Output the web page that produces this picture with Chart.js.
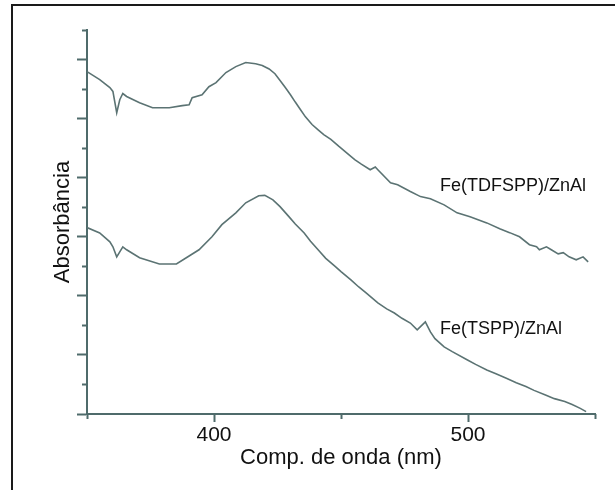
<!DOCTYPE html>
<html>
<head>
<meta charset="utf-8">
<script src="https://cdn.jsdelivr.net/npm/chart.js@4/dist/chart.umd.min.js"></script>
<style>
  html, body { margin: 0; padding: 0; background: #fff; }
  #wrap { position: relative; width: 615px; height: 490px; overflow: hidden; }
  #frame { position: absolute; left: 11px; top: 4px; width: 700px; height: 600px;
           border-top: 2px solid #1a1a1a; border-left: 2px solid #1a1a1a; box-sizing: border-box; }
  canvas { position: absolute; left: 0; top: 0; }
</style>
</head>
<body>
<div id="wrap">
  <div id="frame"></div>
  <canvas id="c" width="615" height="490"></canvas>
</div>
<script>
// Fe(TDFSPP)/ZnAl  (upper curve)
const wlTDFSPP = [350, 355, 359, 360.2, 361.7, 362.9, 364.1, 365.6, 370.7, 375.8, 382.4, 387.5, 390.2, 391.4, 395.3, 398, 400.8, 404.7, 408.6, 412.5, 416.4, 419, 421.7, 424, 426.3, 428, 430.1, 432, 434, 436, 438.6, 441, 443.2, 446, 449.2, 452, 455.4, 458, 461.5, 463.5, 464.5, 469.5, 472.3, 477.3, 481.3, 485.2, 490.6, 495.7, 500.8, 507.4, 512.5, 516.4, 520.3, 524.2, 527, 528.1, 530.9, 532.8, 535.5, 537.5, 539.8, 542.6, 545.3, 547.3];
const absTDFSPP = [11.59, 11.32, 11.05, 10.92, 10.20, 10.64, 10.85, 10.75, 10.54, 10.37, 10.37, 10.44, 10.47, 10.71, 10.81, 11.08, 11.22, 11.56, 11.76, 11.90, 11.86, 11.80, 11.68, 11.52, 11.26, 11.06, 10.81, 10.56, 10.31, 10.06, 9.80, 9.62, 9.46, 9.30, 9.06, 8.86, 8.61, 8.46, 8.27, 8.36, 8.27, 7.83, 7.76, 7.53, 7.36, 7.29, 7.08, 6.81, 6.68, 6.47, 6.27, 6.14, 6.00, 5.73, 5.66, 5.56, 5.66, 5.56, 5.42, 5.46, 5.32, 5.22, 5.32, 5.15];

// Fe(TSPP)/ZnAl  (lower curve)
const wlTSPP = [350, 355, 359, 360.2, 361.7, 362.9, 364.1, 365.6, 370.7, 378.5, 385.2, 389.1, 394.1, 399.2, 403.1, 408.6, 412.5, 417.6, 420, 423.2, 426, 429.4, 432, 435.5, 438, 441.6, 444, 447.8, 450, 453.9, 457, 460, 464.5, 468, 471, 474, 477.3, 480, 483.2, 485.2, 487, 490.6, 493.8, 499.8, 503, 507.4, 511, 515.1, 519, 522.8, 526, 530.5, 534, 538.1, 541, 544.2, 546.5];
const absTSPP = [6.31, 6.13, 5.83, 5.66, 5.32, 5.49, 5.66, 5.56, 5.29, 5.08, 5.08, 5.29, 5.56, 6.00, 6.41, 6.81, 7.15, 7.39, 7.40, 7.25, 7.02, 6.69, 6.43, 6.13, 5.85, 5.50, 5.27, 4.99, 4.82, 4.54, 4.30, 4.09, 3.76, 3.56, 3.42, 3.24, 3.08, 2.85, 3.12, 2.78, 2.55, 2.27, 2.11, 1.83, 1.68, 1.49, 1.36, 1.21, 1.06, 0.93, 0.80, 0.64, 0.52, 0.42, 0.32, 0.19, 0.08];

const xMinorTicks = [350, 450, 550];
const xMajorTicks = [400, 500];
const xTickLabels = [400, 500];
const curveNames = ['Fe(TDFSPP)/ZnAl', 'Fe(TSPP)/ZnAl'];
const nameAtX = [489, 489];
const nameAtY = [7.73, 2.88];

const toPts = (xs, ys) => xs.map((x, i) => ({x: x, y: ys[i]}));
const LINE = '#5b7373';
const AXIS = '#4f6b6b';
const FONT = "'Liberation Sans', Arial, sans-serif";

const namePlugin = {
  id: 'curveNames',
  afterDraw(chart) {
    const ctx = chart.ctx, xs = chart.scales.x, ys = chart.scales.y;
    ctx.save();
    ctx.font = '18px ' + FONT;
    ctx.fillStyle = '#111';
    ctx.textBaseline = 'middle';
    ctx.textAlign = 'left';
    curveNames.forEach((n, i) => {
      ctx.fillText(n, xs.getPixelForValue(nameAtX[i]), ys.getPixelForValue(nameAtY[i]));
    });
    ctx.restore();
  }
};

new Chart(document.getElementById('c'), {
  type: 'line',
  data: {
    datasets: [
      { label: curveNames[0], data: toPts(wlTDFSPP, absTDFSPP), borderColor: LINE, borderWidth: 1.6, pointRadius: 0, tension: 0, fill: false },
      { label: curveNames[1], data: toPts(wlTSPP, absTSPP), borderColor: LINE, borderWidth: 1.6, pointRadius: 0, tension: 0, fill: false }
    ]
  },
  options: {
    responsive: false,
    animation: false,
    layout: { padding: { left: 0, top: 30, right: 20, bottom: 0 } },
    plugins: { legend: { display: false }, tooltip: { enabled: false } },
    scales: {
      x: {
        type: 'linear', min: 350, max: 550, weight: 1,
        afterBuildTicks: s => { s.ticks = xMajorTicks.map(v => ({ value: v })); },
        ticks: { callback: v => xTickLabels.includes(v) ? String(v) : '', font: { size: 21, family: FONT }, color: '#111', padding: 1, maxRotation: 0, autoSkip: false },
        grid: { drawOnChartArea: false, drawTicks: true, tickLength: 8, tickColor: AXIS, tickWidth: 2 },
        border: { display: true, color: AXIS, width: 2 },
        title: { display: true, text: 'Comp. de onda (nm)', font: { size: 22, family: FONT }, color: '#111', padding: { top: 0, bottom: 19 } },
        afterFit: s => { s.height = 76; }
      },
      xMinor: {
        type: 'linear', position: 'bottom', min: 350, max: 550, weight: 0,
        afterBuildTicks: s => { s.ticks = xMinorTicks.map(v => ({ value: v })); },
        ticks: { callback: () => '', autoSkip: false, maxRotation: 0 },
        grid: { drawOnChartArea: false, drawTicks: true, tickLength: 5, tickColor: AXIS, tickWidth: 2 },
        border: { display: false },
        afterFit: s => { s.height = 0; }
      },
      y: {
        min: 0, max: 13, weight: 1,
        afterBuildTicks: s => { s.ticks = s.ticks.filter(t => t.value % 2 === 0); },
        ticks: { stepSize: 1, callback: () => '', font: { size: 10, family: FONT } },
        grid: { drawOnChartArea: false, drawTicks: true, tickLength: 10, tickColor: AXIS, tickWidth: 2 },
        border: { display: true, color: AXIS, width: 2 },
        title: { display: true, text: 'Absorbância', font: { size: 22, family: FONT }, color: '#111', padding: { top: 50, bottom: 0 } },
        afterFit: s => { s.width = 87; }
      },
      yMinor: {
        position: 'left', min: 0, max: 13, weight: 0,
        afterBuildTicks: s => { s.ticks = s.ticks.filter(t => t.value % 2 === 1); },
        ticks: { stepSize: 1, callback: () => '' },
        grid: { drawOnChartArea: false, drawTicks: true, tickLength: 5, tickColor: AXIS, tickWidth: 2 },
        border: { display: false },
        afterFit: s => { s.width = 0; }
      }
    }
  },
  plugins: [namePlugin]
});
</script>
</body>
</html>
